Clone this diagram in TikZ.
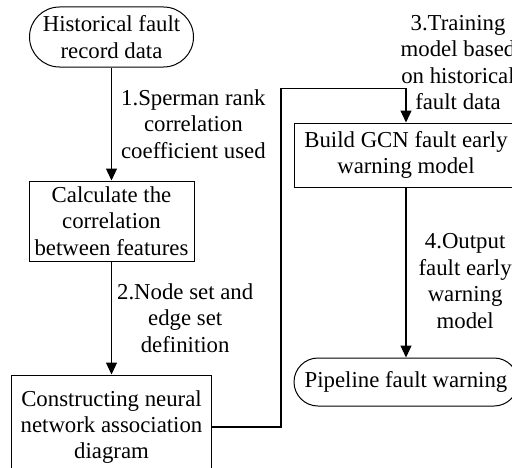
\documentclass[tikz,border=0pt]{standalone}
\usepackage{fontspec}
\setmainfont{Liberation Serif}
\usetikzlibrary{positioning,arrows.meta}

\begin{document}
\begin{tikzpicture}[x=0.5pt, y=0.5pt,
    font=\fontsize{11.4}{13.2}\selectfont,
    box/.style={rectangle, draw=black, line width=0.5pt, align=center, inner sep=1pt},
    term/.style={box, rounded corners=#1},
    lbl/.style={align=center, inner sep=1pt},
    flow/.style={-{Triangle[length=6pt,width=5.5pt]}, line width=0.6pt}]
    \useasboundingbox (0,0) rectangle (512,467);

    \node[term=15pt, minimum width=82pt, minimum height=30pt] (history) at (111.5,430) {Historical fault\\record data};
    \node[box, minimum width=82.5pt, minimum height=40pt, below=56.5pt of history] (corr) {Calculate the\\correlation\\between features};
    \node[box, minimum width=100pt, minimum height=52pt, below=56.5pt of corr] (graph) {Constructing neural\\network association\\diagram};
    \node[box, minimum width=112pt, minimum height=32pt] (gcn) at (406,312) {Build GCN fault early\\warning model};
    \node[term=12pt, minimum width=112pt, minimum height=24pt, below=85pt of gcn] (warning) {Pipeline fault warning};

    \draw[flow] (history) to node[lbl, right=3.5pt] {1.Sperman rank\\correlation\\coefficient used} (corr);
    \draw[flow] (corr) to node[lbl, right=1.5pt] {2.Node set and\\edge set\\definition} (graph);
    \draw[flow] (graph.east) -- ++(69,0) |- ([yshift=17pt]gcn.north)
        -- node[lbl, pos=1, anchor=south, xshift=26pt, yshift=5pt] {3.Training\\model based\\on historical\\fault data} (gcn.north);
    \draw[flow] (gcn) to node[lbl, pos=0.55, right=5pt] {4.Output\\fault early\\warning\\model} (warning);
  \end{tikzpicture}
\end{document}
